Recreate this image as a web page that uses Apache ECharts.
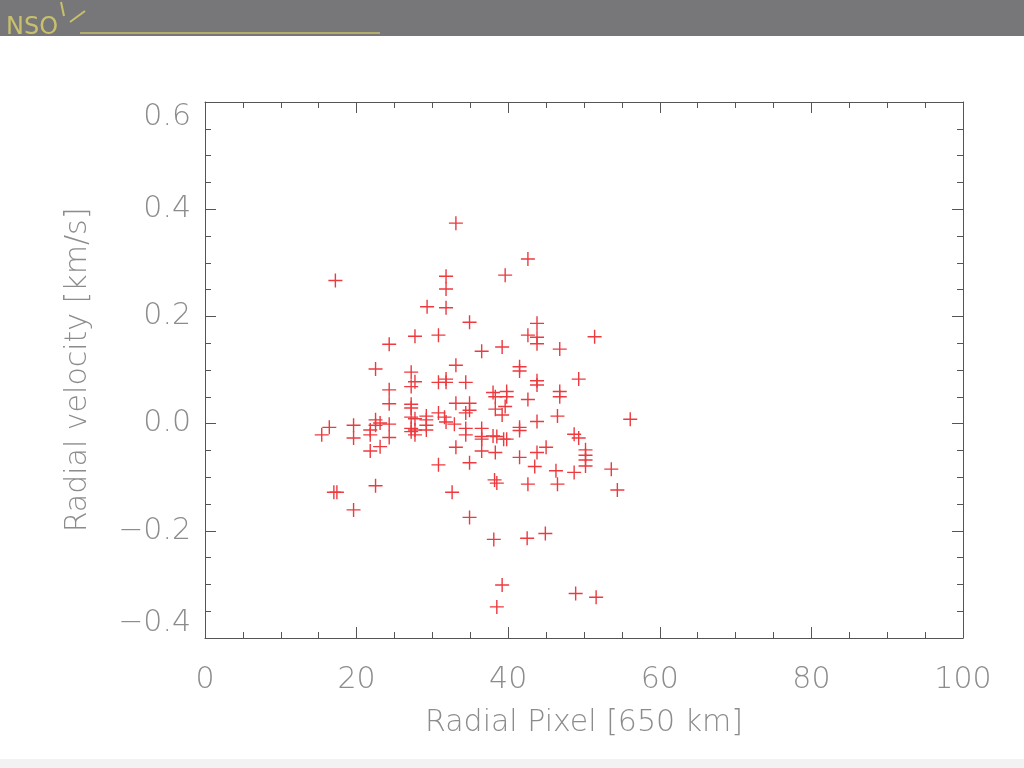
<!DOCTYPE html>
<html>
<head>
<meta charset="utf-8">
<script src="https://cdn.jsdelivr.net/npm/echarts@6/dist/echarts.min.js"></script>
<style>html,body{margin:0;padding:0;background:#fff;}#c{width:1024px;height:768px;}</style>
</head>
<body>
<div id="c"></div>
<script>
var xTitle = 'Radial Pixel [650 km]';
var yTitle = 'Radial velocity [km/s]';
var radialPixel = [15.4,16.4,17.2,17.0,17.4,19.6,19.6,19.6,21.8,21.8,21.8,22.5,22.5,22.5,23.1,23.1,22.5,24.3,24.3,24.3,24.3,24.3,27.7,27.2,27.7,27.2,27.2,27.2,27.2,27.7,27.2,27.2,27.7,27.7,29.3,29.2,29.2,29.2,29.2,30.8,30.8,30.8,30.8,31.8,31.8,31.8,31.8,31.8,31.6,31.8,33.1,33.1,33.1,32.9,33.1,32.6,34.9,34.4,34.9,34.9,34.4,34.4,34.4,34.9,34.9,36.5,36.5,36.5,36.5,36.5,38.0,38.3,38.3,38.0,38.5,38.3,38.2,38.5,38.1,38.5,39.6,39.2,39.8,39.8,39.6,39.2,39.4,39.8,39.2,41.5,41.5,41.5,41.5,41.5,42.6,42.6,42.6,42.6,42.5,43.8,43.8,43.8,43.8,43.8,43.8,43.8,43.5,45.0,44.9,46.8,46.8,46.8,46.5,46.3,46.5,48.7,49.3,48.7,49.3,48.9,50.2,50.2,50.2,50.2,51.4,51.6,53.6,54.4,56.1];
var radialVelocity = [-0.021,-0.007,0.267,-0.128,-0.128,-0.003,-0.027,-0.161,-0.012,-0.021,-0.051,0.102,0.007,-0.003,0.001,-0.043,-0.116,0.148,0.063,0.037,-0.001,-0.026,0.163,0.096,0.078,0.069,0.036,0.029,0.012,0.009,-0.009,-0.015,-0.012,-0.021,0.218,0.014,0.007,-0.003,-0.012,0.165,0.077,0.020,-0.077,0.275,0.251,0.216,0.083,0.077,0.012,0.003,0.374,0.109,0.038,-0.001,-0.044,-0.128,0.189,0.077,0.038,0.025,0.020,-0.009,-0.021,-0.073,-0.175,0.135,-0.009,-0.024,-0.029,-0.051,0.058,0.050,0.027,-0.023,-0.024,-0.054,-0.105,-0.111,-0.216,-0.342,0.277,0.143,0.060,0.050,0.032,0.016,-0.029,-0.029,-0.301,0.106,0.098,-0.007,-0.013,-0.063,0.307,0.165,0.045,-0.113,-0.214,0.187,0.161,0.149,0.080,0.072,0.004,-0.054,-0.080,-0.044,-0.205,0.139,0.060,0.050,0.014,-0.088,-0.113,-0.020,-0.027,-0.091,0.083,-0.317,-0.049,-0.059,-0.068,-0.079,0.162,-0.324,-0.085,-0.124,0.008];

var pts = radialPixel.map(function (x, i) { return [x, radialVelocity[i]]; });
var txt = '#8c8c8c', axc = '#555555';
var fontF = '"DejaVu Sans", sans-serif';

var chart = echarts.init(document.getElementById('c'), null, {renderer: 'canvas'});
function axisCommon(showLabel) {
  return {
    axisLine: {show: true, onZero: false, lineStyle: {color: axc, width: 1}},
    axisTick: {show: true, inside: true, length: 11, lineStyle: {color: axc, width: 1}},
    minorTick: {show: true, splitNumber: 4, length: 6, lineStyle: {color: axc, width: 1}},
    splitLine: {show: false},
    axisLabel: {show: showLabel, color: txt, fontSize: 30, fontFamily: fontF, fontWeight: 200}
  };
}
var xa = Object.assign(axisCommon(true), {
  type: 'value', min: 0, max: 100, interval: 20, position: 'bottom',
  name: xTitle, nameLocation: 'middle', nameGap: 70,
  nameTextStyle: {color: txt, fontSize: 30, fontFamily: fontF, fontWeight: 200}
});
xa.axisLabel.margin = 27;
var xa2 = Object.assign(axisCommon(false), {type: 'value', min: 0, max: 100, interval: 20, position: 'top'});
var ya = Object.assign(axisCommon(true), {
  type: 'value', min: -0.4, max: 0.6, interval: 0.2, position: 'left',
  name: yTitle, nameLocation: 'middle', nameGap: 112, nameRotate: 90,
  nameTextStyle: {color: txt, fontSize: 30, fontFamily: fontF, fontWeight: 200}
});
ya.axisLabel.margin = 14;
ya.axisLabel.verticalAlignMaxLabel = 'top';
ya.axisLabel.verticalAlignMinLabel = 'bottom';
ya.axisLabel.formatter = function (v) {
  var s = Math.abs(v).toFixed(1);
  return (v < -1e-9 ? '\u2212' : '') + s;
};
var ya2 = Object.assign(axisCommon(false), {type: 'value', min: -0.4, max: 0.6, interval: 0.2, position: 'right'});

chart.setOption({
  animation: false,
  backgroundColor: '#ffffff',
  grid: {left: 205, right: 61, top: 102, bottom: 130, containLabel: false},
  xAxis: [xa, xa2],
  yAxis: [ya, ya2],
  graphic: [
    {type: 'rect', shape: {x: 0, y: 0, width: 1024, height: 36}, style: {fill: '#77777a'}, z: 10},
    {type: 'rect', shape: {x: 0, y: 759, width: 1024, height: 9}, style: {fill: '#f2f2f2'}, z: 10},
    {type: 'text', x: 6, y: 16, style: {text: 'NSO', fill: '#c8c06a', font: '24px "DejaVu Sans"'}, z: 11},
    {type: 'line', shape: {x1: 80, y1: 33, x2: 380, y2: 33}, style: {stroke: '#c8c06a', lineWidth: 1.5}, z: 11},
    {type: 'line', shape: {x1: 61, y1: 2, x2: 64, y2: 16}, style: {stroke: '#c8c06a', lineWidth: 2}, z: 11},
    {type: 'line', shape: {x1: 70, y1: 22, x2: 85, y2: 11}, style: {stroke: '#c8c06a', lineWidth: 2}, z: 11}
  ],
  series: [{
    type: 'scatter',
    xAxisIndex: 0, yAxisIndex: 0,
    data: pts,
    symbol: 'path://M7.2,0h1.6v16h-1.6z M0,7.2h16v1.6h-16z',
    symbolSize: 14,
    itemStyle: {color: '#ec3a3f', opacity: 1}
  }]
});
</script>
</body>
</html>
